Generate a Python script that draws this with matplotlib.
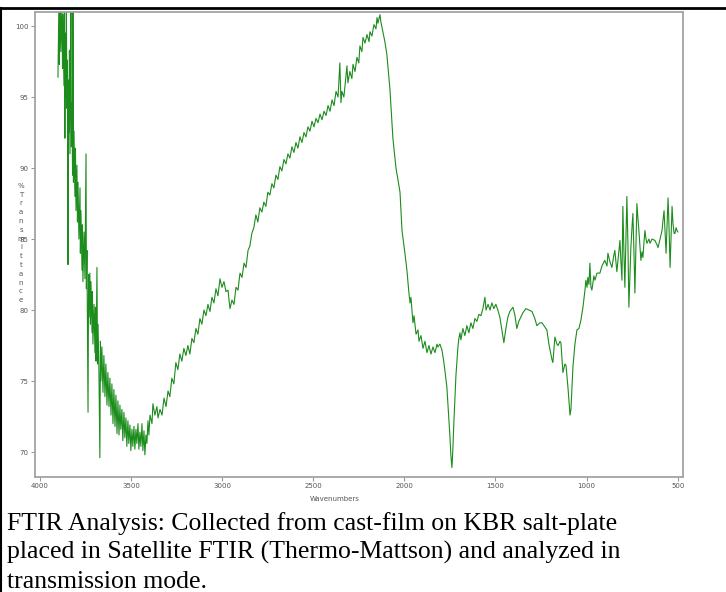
import matplotlib
matplotlib.use('Agg')
import matplotlib.pyplot as plt
from matplotlib.lines import Line2D

# FTIR spectrum (wavenumber in cm-1, % transmittance)
wavenumber = [
    3901, 3896, 3893, 3890, 3885, 3879, 3876, 3874, 3868, 3866, 3863, 3860, 3857, 3855,
    3852, 3849, 3846, 3844, 3841, 3838, 3835, 3830, 3827, 3824, 3821, 3819, 3816, 3813,
    3808, 3805, 3802, 3797, 3794, 3791, 3786, 3780, 3778, 3775, 3769, 3767, 3764, 3758,
    3753, 3747, 3745, 3742, 3736, 3733, 3731, 3726, 3723, 3720, 3714, 3712, 3709, 3703,
    3698, 3695, 3692, 3687, 3684, 3681, 3676, 3671, 3668, 3665, 3660, 3654, 3649, 3643,
    3638, 3632, 3627, 3621, 3616, 3610, 3605, 3599, 3594, 3588, 3583, 3577, 3572, 3566,
    3561, 3556, 3550, 3545, 3539, 3534, 3528, 3523, 3517, 3512, 3506, 3501, 3495, 3490,
    3484, 3479, 3473, 3468, 3462, 3457, 3451, 3446, 3440, 3435, 3429, 3424, 3418, 3413,
    3407, 3402, 3396,
    3385, 3380, 3369, 3358, 3352, 3341, 3330, 3319, 3308, 3297, 3287, 3276, 3265, 3254,
    3243, 3232, 3221, 3210, 3199, 3188, 3177, 3166, 3155, 3144, 3133, 3122, 3111, 3100,
    3089, 3078, 3067, 3056, 3045, 3034, 3023, 3012, 3001, 2990, 2979, 2968, 2957, 2946,
    2935, 2924, 2913, 2902, 2891, 2880, 2869, 2858, 2848, 2837, 2826, 2815, 2804, 2793,
    2782, 2771, 2760, 2749, 2738, 2727, 2716, 2705, 2694, 2683, 2672, 2661, 2650, 2639,
    2628, 2617, 2606, 2595, 2584, 2573, 2562, 2551, 2540, 2529, 2518, 2507, 2496, 2485,
    2474, 2463, 2452, 2441, 2430, 2419, 2408, 2397, 2386, 2375, 2364, 2354, 2348, 2343,
    2332, 2321, 2315, 2310, 2299, 2288, 2282, 2271, 2260, 2250, 2244, 2233, 2227, 2216,
    2205, 2194, 2189, 2178, 2167, 2156, 2150, 2145, 2134, 2129, 2118, 2107, 2096,
    2079, 2063, 2046, 2024, 2013, 1997, 1986, 1975, 1969, 1964, 1953, 1947, 1936, 1925,
    1920, 1909, 1898, 1887, 1876, 1865, 1854, 1843, 1832, 1821, 1816, 1805, 1794, 1783,
    1767, 1756, 1750, 1745, 1739, 1734, 1728, 1717, 1706, 1701, 1695, 1690, 1679, 1668,
    1657, 1646, 1635, 1624, 1613, 1602, 1591, 1580, 1569, 1558, 1552, 1541, 1530, 1520,
    1509, 1498, 1487, 1476, 1465, 1454, 1443, 1432, 1421, 1404, 1393, 1383, 1372, 1361,
    1350, 1333, 1317, 1300, 1284, 1273, 1256, 1245, 1229, 1218, 1207, 1201, 1190, 1185,
    1174, 1163, 1157, 1146, 1141, 1130, 1119, 1113, 1102, 1091, 1086, 1075, 1064, 1053,
    1042, 1031, 1020, 1009, 1004, 998, 993, 987, 982, 976, 971, 960, 954, 943,
    927, 916, 900, 888, 883, 872, 861, 850, 845, 834, 823, 817, 812, 806,
    801, 795, 790, 784, 779, 773, 768, 762, 757, 751, 746, 740, 735, 729,
    724, 718, 713, 707, 702, 696, 691, 685, 680, 674, 669, 658, 652, 641,
    625, 614, 608, 597, 586, 581, 575, 570, 564, 559, 553, 548, 542, 537,
    531, 526, 520, 515, 509, 504, 499,
]

transmittance = [
    96.4, 101.5, 97.3, 102.0, 98.2, 101.8, 97.0, 100.8, 95.8, 102.0, 92.1, 99.5, 95.0, 101.6,
    94.2, 97.6, 83.2, 96.2, 92.5, 98.3, 91.0, 102.0, 91.5, 94.6, 89.5, 102.0, 89.0, 92.6,
    88.0, 91.4, 87.0, 90.2, 86.2, 89.0, 85.0, 88.6, 84.0, 87.0, 82.8, 86.0, 82.0, 85.5,
    82.2, 91.0, 81.5, 84.2, 72.8, 82.5, 79.5, 82.6, 79.0, 82.0, 78.4, 81.3, 77.6, 80.4,
    77.0, 80.2, 76.4, 83.0, 76.2, 79.0, 75.5, 69.6, 77.8, 75.0, 77.4, 74.2, 76.8, 73.9,
    76.2, 73.3, 75.6, 73.2, 75.2, 72.6, 74.8, 72.0, 74.4, 71.8, 74.0, 71.3, 73.6, 71.2,
    73.3, 71.6, 73.0, 70.8, 72.8, 71.0, 72.4, 70.4, 72.2, 70.6, 71.9, 70.1, 71.6, 70.4,
    71.8, 70.2, 71.6, 70.6, 72.0, 70.2, 71.4, 70.4, 72.0, 70.1, 71.5, 69.8, 71.2, 70.6,
    72.2, 71.2, 72.6,
    72.0, 73.4, 72.6, 73.2, 72.4, 73.0, 72.6, 73.8, 73.2, 74.3, 73.9, 75.2, 74.8, 76.3,
    75.8, 76.9, 76.4, 77.3, 76.8, 77.5, 76.9, 78.0, 77.7, 78.7, 78.3, 79.4, 79.0, 80.0,
    79.6, 80.4, 79.9, 80.9, 80.5, 81.5, 81.0, 82.2, 81.6, 82.0, 81.3, 81.4, 80.1, 80.7,
    80.4, 81.6, 81.4, 82.6, 82.3, 83.3, 83.0, 84.2, 84.5, 85.4, 85.8, 86.7, 86.2, 87.2,
    86.9, 87.6, 87.3, 88.3, 88.1, 88.9, 88.6, 89.5, 89.2, 90.1, 89.8, 90.6, 90.3, 91.0,
    90.7, 91.5, 91.1, 91.8, 91.4, 92.2, 91.8, 92.5, 92.2, 92.9, 92.6, 93.3, 92.9, 93.5,
    93.2, 93.8, 93.4, 94.0, 93.7, 94.4, 94.0, 94.8, 94.4, 95.4, 95.0, 97.4, 94.6, 95.4,
    95.0, 96.4, 97.2, 96.0, 96.8, 96.3, 97.3, 96.8, 97.8, 97.4, 98.6, 98.2, 99.2, 98.8,
    99.4, 98.9, 99.6, 99.3, 100.1, 99.8, 100.6, 100.2, 100.8, 100.3, 99.6, 98.9, 98.0,
    95.5, 92.1, 90.0, 88.3, 85.6, 84.0, 82.8, 81.2, 80.5, 80.9, 79.1, 79.6, 78.3, 78.6,
    77.8, 78.2, 77.3, 77.8, 77.0, 77.5, 76.9, 77.4, 77.0, 77.6, 77.4, 77.6, 77.2, 76.3,
    74.6, 72.3, 71.1, 69.8, 68.9, 70.2, 72.2, 75.4, 77.4, 78.0, 78.4, 77.9, 78.7, 78.2,
    78.9, 78.4, 79.1, 78.7, 79.4, 79.2, 79.7, 79.6, 80.1, 80.9, 80.0, 80.4, 80.0, 80.5,
    80.1, 80.4, 80.0, 79.5, 78.6, 77.7, 78.7, 79.5, 79.9, 80.2, 79.6, 78.7, 79.2, 79.5,
    79.8, 80.1, 80.0, 79.9, 79.4, 78.9, 79.1, 79.1, 78.8, 78.6, 77.6, 77.2, 76.5, 76.3,
    78.1, 77.6, 77.5, 77.8, 77.7, 75.6, 76.2, 76.1, 74.5, 72.6, 73.0, 76.0, 77.6, 78.6,
    78.7, 79.3, 80.2, 81.4, 82.1, 81.6, 82.3, 81.8, 83.3, 81.6, 81.4, 82.4, 82.1, 82.6,
    82.6, 83.1, 83.5, 83.1, 84.0, 83.4, 83.0, 83.9, 84.2, 82.7, 84.1, 84.9, 83.5, 82.1,
    87.3, 84.0, 81.6, 85.2, 88.0, 84.5, 80.2, 82.5, 84.4, 85.8, 86.8, 84.0, 81.2, 84.8,
    87.5, 86.4, 85.6, 84.4, 83.5, 84.1, 83.7, 84.8, 85.6, 85.0, 84.7, 85.0, 84.7, 85.0,
    84.9, 84.6, 84.4, 85.0, 85.6, 86.3, 87.0, 85.6, 84.0, 85.8, 87.9, 86.0, 83.0, 85.0,
    87.3, 86.1, 85.4, 85.4, 85.8, 85.6, 85.5,
]

x_ticks = [4000, 3500, 3000, 2500, 2000, 1500, 1000, 500]
y_ticks = [70, 75, 80, 85, 90, 95, 100]

caption_lines = [
    "FTIR Analysis: Collected from cast-film on KBR salt-plate",
    "placed in Satellite FTIR (Thermo-Mattson) and analyzed in",
    "transmission mode.",
]

W, H = 726, 592
fig = plt.figure(figsize=(W / 100, H / 100), dpi=100)
fig.patch.set_facecolor('white')

ax = fig.add_axes([35 / W, 1 - 477 / H, (683 - 35) / W, (477 - 12) / H])
ax.plot(wavenumber, transmittance, color='#1c8c1c', lw=0.8)
ax.set_xlim(4027, 471)
ax.set_ylim(68.24, 100.99)
ax.set_xticks(x_ticks)
ax.set_yticks(y_ticks)
ax.set_xticklabels([str(v) for v in x_ticks])
ax.set_yticklabels([str(v) for v in y_ticks])

for s in ax.spines.values():
    s.set_color('#a3a3a3')
    s.set_linewidth(1.3)
ax.tick_params(direction='out', length=3, width=0.8, color='#999999',
               labelsize=5, labelcolor='#555555', pad=1.5)

# axis labels drawn the way the instrument software does
fig.text(335 / W, 1 - 499 / H, "Wavenumbers", fontsize=5, color='#555555',
         ha='center', va='center')
fig.text(21 / W, 1 - 243 / H, "\n".join("%Transmittance"), fontsize=5,
         color='#555555', ha='center', va='center', linespacing=1.56)

# caption under the chart (table cell text)
for i, line in enumerate(caption_lines):
    fig.text(7 / W, 1 - (530 + 29 * i) / H, line, family='Liberation Serif',
             fontsize=18.5, color='black', ha='left', va='baseline')

# table cell border (top and left only)
fig.add_artist(Line2D([0, 1], [1 - 7.5 / H, 1 - 7.5 / H], color='black', lw=2))
fig.add_artist(Line2D([1 / W, 1 / W], [0, 1 - 7.5 / H], color='black', lw=1.5))

fig.savefig('out.png', dpi=100, facecolor='white')
